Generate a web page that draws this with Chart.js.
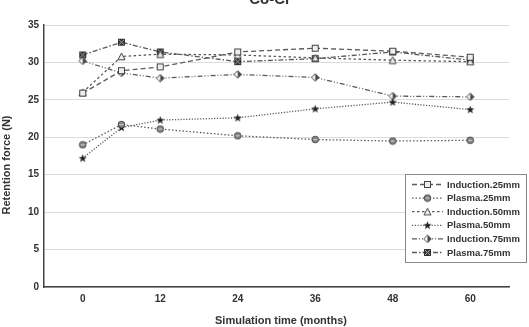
<!DOCTYPE html>
<html>
<head>
<meta charset="utf-8">
<script src="https://cdn.jsdelivr.net/npm/chart.js@4"></script>
<style>
  html, body { margin: 0; padding: 0; background: #fff; }
  #wrap { width: 529px; height: 327px; }
</style>
</head>
<body>
<div id="wrap"><canvas id="chart" width="529" height="327"></canvas></div>
<script>
// ==========================================
// 1. DATA
// ==========================================
const months = [0, 6, 12, 24, 36, 48, 60];
const xTicks = [0, 12, 24, 36, 48, 60];
const yTicks = [0, 5, 10, 15, 20, 25, 30, 35];

const seriesNames = ['Induction.25mm', 'Plasma.25mm', 'Induction.50mm', 'Plasma.50mm', 'Induction.75mm', 'Plasma.75mm'];
const induction25 = [25.9, 28.9, 29.4, 31.4, 31.9, 31.5, 30.7];
const plasma25    = [19.0, 21.7, 21.1, 20.2, 19.7, 19.5, 19.6];
const induction50 = [26.0, 30.8, 31.1, 31.0, 30.6, 30.3, 30.1];
const plasma50    = [17.2, 21.3, 22.3, 22.6, 23.8, 24.7, 23.7];
const induction75 = [30.2, 28.6, 27.9, 28.4, 28.0, 25.5, 25.4];
const plasma75    = [31.0, 32.7, 31.4, 30.1, 30.5, 31.4, 30.3];

const FONT = '"Liberation Sans", Arial, sans-serif';
const INK = '#333';
const LINE = '#5a5a5a';

// ==========================================
// 2. MARKERS (small canvases used as pointStyle)
// ==========================================
function makeMarker(kind) {
  const c = document.createElement('canvas');
  c.width = 9; c.height = 9;
  const g = c.getContext('2d');
  g.lineWidth = 1;
  g.strokeStyle = '#444';
  if (kind === 'square') {
    g.fillStyle = '#eee';
    g.fillRect(1.5, 1.5, 6, 6);
    g.strokeRect(1.5, 1.5, 6, 6);
  } else if (kind === 'circle') {
    g.fillStyle = '#888';
    g.beginPath(); g.arc(4.5, 4.5, 3.3, 0, Math.PI * 2); g.fill(); g.stroke();
    g.strokeStyle = '#ccc';
    g.beginPath(); g.moveTo(2.5, 4.5); g.lineTo(6.5, 4.5); g.stroke();
  } else if (kind === 'triangle') {
    g.fillStyle = '#eee';
    g.beginPath(); g.moveTo(4.5, 1); g.lineTo(8, 7.8); g.lineTo(1, 7.8); g.closePath();
    g.fill(); g.stroke();
  } else if (kind === 'star') {
    g.fillStyle = '#222';
    g.beginPath();
    for (let i = 0; i < 10; i++) {
      const r = i % 2 === 0 ? 4.3 : 1.8;
      const a = -Math.PI / 2 + i * Math.PI / 5;
      const px = 4.5 + r * Math.cos(a), py = 4.8 + r * Math.sin(a);
      if (i === 0) g.moveTo(px, py); else g.lineTo(px, py);
    }
    g.closePath(); g.fill();
  } else if (kind === 'diamond') {
    g.fillStyle = '#fff';
    g.beginPath(); g.moveTo(4.5, 0.8); g.lineTo(8.2, 4.5); g.lineTo(4.5, 8.2); g.lineTo(0.8, 4.5); g.closePath();
    g.fill(); g.stroke();
    g.fillStyle = '#444';
    g.beginPath(); g.moveTo(4.5, 0.8); g.lineTo(8.2, 4.5); g.lineTo(4.5, 8.2); g.closePath(); g.fill();
  } else if (kind === 'xsquare') {
    g.fillStyle = '#333';
    g.fillRect(1, 1, 7, 7);
    g.strokeStyle = '#aaa';
    g.beginPath(); g.moveTo(2, 2); g.lineTo(7, 7); g.moveTo(7, 2); g.lineTo(2, 7); g.stroke();
  }
  return c;
}

const markers = ['square', 'circle', 'triangle', 'star', 'diamond', 'xsquare'].map(makeMarker);
const dashes = [[5, 3], [1.5, 2], [2.5, 2.5], [1.2, 1.6], [5, 2, 1, 2, 1, 2], [5, 2, 1.5, 2]];
const values = [induction25, plasma25, induction50, plasma50, induction75, plasma75];

// ==========================================
// 3. PLUGINS: titles and boxed legend drawn on canvas
// ==========================================
const decorations = {
  id: 'decorations',
  afterDraw(chart) {
    const ctx = chart.ctx;
    ctx.save();
    ctx.fillStyle = INK;
    ctx.textAlign = 'center';
    // main title, mostly cut off at the top edge
    ctx.font = `bold 15px ${FONT}`;
    ctx.textBaseline = 'alphabetic';
    ctx.fillText('Co-Cr', 270, 4);
    // x axis title
    ctx.font = `bold 11px ${FONT}`;
    ctx.textBaseline = 'middle';
    ctx.fillText('Simulation time (months)', 281, 321);
    // y axis title
    ctx.translate(7, 165);
    ctx.rotate(-Math.PI / 2);
    ctx.fillText('Retention force (N)', 0, 0);
    ctx.restore();

    // legend box
    ctx.save();
    ctx.fillStyle = '#fff';
    ctx.fillRect(405, 174, 122, 89);
    ctx.strokeStyle = '#888';
    ctx.lineWidth = 1;
    ctx.strokeRect(405.5, 174.5, 121, 88);
    ctx.font = `bold 9.5px ${FONT}`;
    ctx.textBaseline = 'middle';
    ctx.textAlign = 'left';
    seriesNames.forEach((name, i) => {
      const y = 184.5 + i * 13.6;
      ctx.strokeStyle = LINE;
      ctx.lineWidth = 1.3;
      ctx.setLineDash(dashes[i]);
      ctx.beginPath(); ctx.moveTo(412, y); ctx.lineTo(443, y); ctx.stroke();
      ctx.setLineDash([]);
      ctx.drawImage(markers[i], 427.5 - 4.5, y - 4.5);
      ctx.fillStyle = INK;
      ctx.fillText(name, 447, y + 0.5);
    });
    ctx.restore();
  }
};

// ==========================================
// 4. CHART
// ==========================================
const datasets = seriesNames.map((name, i) => ({
  label: name,
  data: months.map((m, j) => ({ x: m, y: values[i][j] })),
  borderColor: LINE,
  borderWidth: 1.3,
  borderDash: dashes[i],
  pointStyle: markers[i],
  pointRadius: 4.5,
  fill: false,
  tension: 0
}));

new Chart(document.getElementById('chart'), {
  type: 'line',
  data: { datasets },
  plugins: [decorations],
  options: {
    responsive: false,
    animation: false,
    layout: { padding: { top: 25, right: 20, left: 0, bottom: 0 } },
    plugins: { legend: { display: false }, tooltip: { enabled: false } },
    scales: {
      x: {
        type: 'linear',
        min: -6, max: 66,
        afterBuildTicks: (s) => { s.ticks = xTicks.map(v => ({ value: v })); },
        afterFit: (s) => { s.height = 40; },
        grid: { display: false, drawTicks: false },
        border: { color: '#444', width: 1.5 },
        ticks: { color: INK, font: { family: FONT, size: 10, weight: 'bold' }, padding: 6, maxRotation: 0 }
      },
      y: {
        min: 0, max: 35,
        afterBuildTicks: (s) => { s.ticks = yTicks.map(v => ({ value: v })); },
        afterFit: (s) => { s.width = 44; },
        grid: { color: '#dcdcdc', lineWidth: 1, drawTicks: false },
        border: { color: '#444', width: 1.5 },
        ticks: { color: INK, font: { family: FONT, size: 10, weight: 'bold' }, padding: 5 }
      }
    }
  }
});
</script>
</body>
</html>
